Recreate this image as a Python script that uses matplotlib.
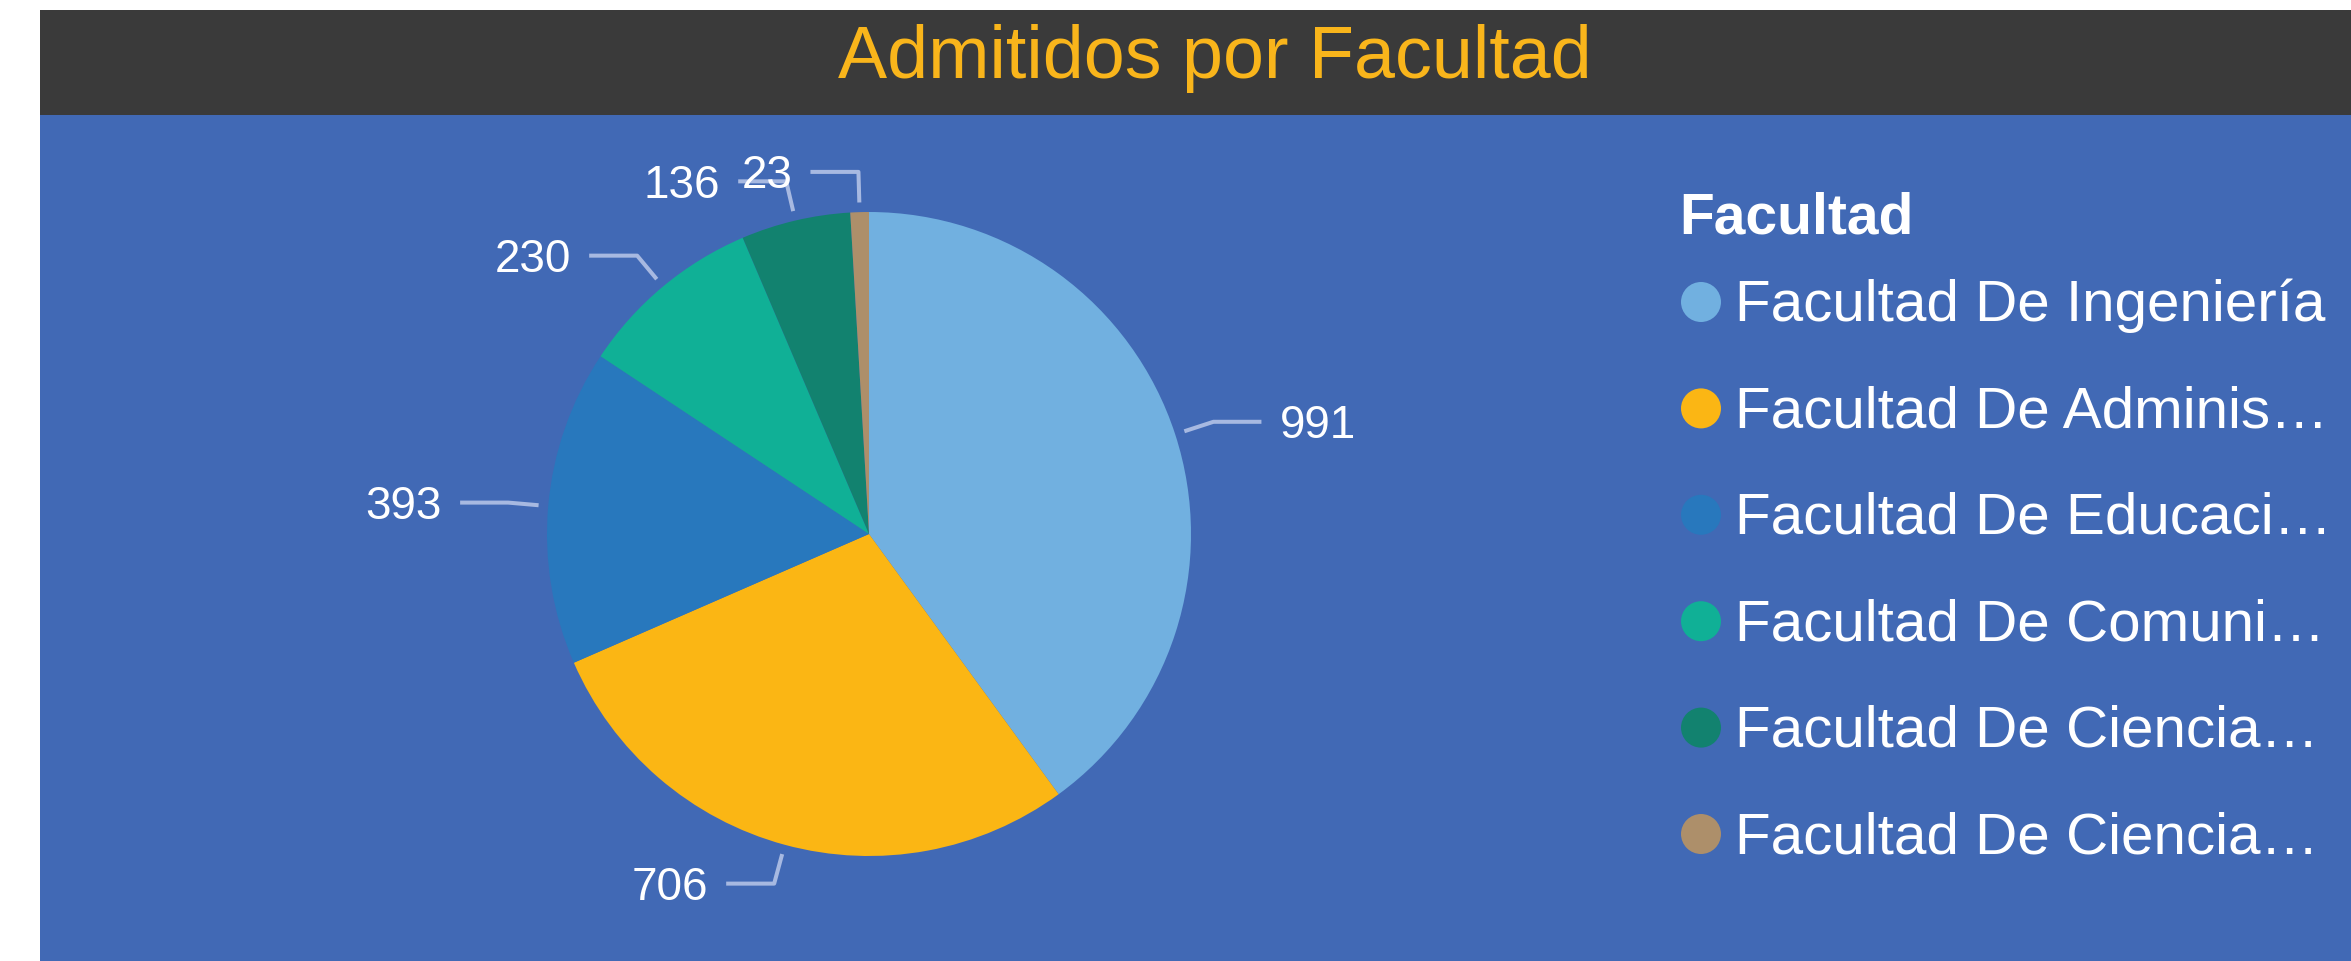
import matplotlib
matplotlib.use('Agg')
import matplotlib.pyplot as plt
from matplotlib.patches import Rectangle, Circle
import numpy as np

# ---- data ----
categories = ["Facultad De Ingeniería", "Facultad De Adminis…", "Facultad De Educaci…",
              "Facultad De Comuni…", "Facultad De Ciencia…", "Facultad De Ciencia…"]
admitidos = [991, 706, 393, 230, 136, 23]
colors = ["#71B0E0", "#FBB614", "#2878BD", "#10B096", "#12826F", "#AD8F6A"]
title_text = "Admitidos por Facultad"
legend_title = "Facultad"

plt.rcParams['font.family'] = ['Liberation Sans', 'DejaVu Sans']

W, H = 2351, 961
fig = plt.figure(figsize=(W / 100, H / 100), dpi=100)
fig.patch.set_facecolor('white')
ax = fig.add_axes([0, 0, 1, 1])


def Y(yd):
    return H - yd


# background panels
ax.add_patch(Rectangle((40, 0), W - 40, Y(10), color='#4169B5', zorder=0, lw=0))
ax.add_patch(Rectangle((40, Y(115)), W - 40, 105, color='#3A3A3A', zorder=1, lw=0))
ax.text(1215, Y(78), title_text, color='#F9B51B', fontsize=53, ha='center',
        va='baseline', zorder=3)

# pie
cx, cy, R = 869, Y(534), 322
wedges, _ = ax.pie(admitidos, colors=colors, startangle=90, counterclock=False,
                   center=(cx, cy), radius=R, wedgeprops=dict(linewidth=0),
                   frame=True)
for w in wedges:
    w.set_zorder(2)

line_color = '#A7B9E1'
for w, v in zip(wedges, admitidos):
    th = np.deg2rad((w.theta1 + w.theta2) / 2)
    c, s = np.cos(th), np.sin(th)
    x1, y1 = cx + 1.03 * R * c, cy + 1.03 * R * s
    x2, y2 = cx + 1.125 * R * c, cy + 1.125 * R * s
    side = 1 if c > 0 else -1
    x3 = x2 + side * 48
    ax.plot([x1, x2, x3], [y1, y2, y2], color=line_color, lw=2.9,
            solid_capstyle='butt', zorder=3)
    ax.text(x3 + side * 18, y2 - 16.5, f"{v}", color='white', fontsize=33,
            ha='left' if side > 0 else 'right', va='baseline', zorder=3)

# legend
ax.text(1679, Y(213) - 20.5, legend_title, color='white', fontsize=41,
        fontweight='bold', ha='left', va='baseline', zorder=3)
for i, (lab, col) in enumerate(zip(categories, colors)):
    yc = 302 + i * 106.4
    ax.add_patch(Circle((1701, Y(yc)), 20, color=col, lw=0, zorder=3))
    ax.text(1735, Y(yc) - 19, lab, color='white', fontsize=42, ha='left',
            va='baseline', zorder=3)

ax.set_xlim(0, W)
ax.set_ylim(0, H)
ax.set_aspect('auto')
ax.axis('off')

fig.savefig('out.png', dpi=100, facecolor='white')
